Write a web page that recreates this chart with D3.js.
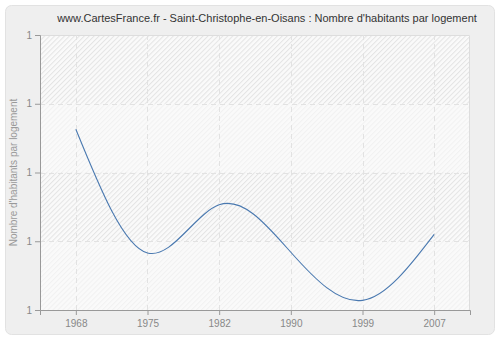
<!DOCTYPE html>
<html>
<head>
<meta charset="utf-8">
<script src="https://cdn.jsdelivr.net/npm/d3@7"></script>
<style>
  html, body { margin: 0; padding: 0; background: #ffffff; }
  svg { display: block; }
</style>
</head>
<body>
<svg id="chart" width="500" height="340"></svg>
<script>
// Census years and average number of inhabitants per dwelling
const years = ["1968", "1975", "1982", "1990", "1999", "2007"];
const values = [1.263, 1.083, 1.153, 1.084, 1.014, 1.110];
const yTicks = [1.0, 1.1, 1.2, 1.3, 1.4];

const titleText = "www.CartesFrance.fr - Saint-Christophe-en-Oisans : Nombre d'habitants par logement";
const yLabel = "Nombre d'habitants par logement";

const W = 500, H = 340;
const margin = { left: 40, right: 30, top: 35, bottom: 30 };
const plotW = W - margin.left - margin.right;
const plotH = H - margin.top - margin.bottom;
const font = "Liberation Sans, Arial, sans-serif";

const svg = d3.select("#chart");

// Outer panel
svg.append("rect")
  .attr("x", 5.5).attr("y", 5.5)
  .attr("width", W - 11).attr("height", H - 11)
  .attr("rx", 6).attr("ry", 6)
  .attr("fill", "#efefef")
  .attr("stroke", "#e2e2e2");

// Diagonal hatch for the plot background
const defs = svg.append("defs");
const pat = defs.append("pattern")
  .attr("id", "hatch")
  .attr("patternUnits", "userSpaceOnUse")
  .attr("width", 3.5).attr("height", 3.5)
  .attr("patternTransform", "rotate(45)");
pat.append("rect").attr("width", 3.5).attr("height", 3.5).attr("fill", "#fafafa");
pat.append("line")
  .attr("x1", 0.5).attr("y1", 0).attr("x2", 0.5).attr("y2", 3.5)
  .attr("stroke", "#e4e4e4").attr("stroke-width", 1);

const x = d3.scalePoint()
  .domain(years)
  .range([0, plotW])
  .padding(0.5);

const y = d3.scaleLinear()
  .domain([1.0, 1.4])
  .range([plotH, 0]);

const g = svg.append("g")
  .attr("transform", `translate(${margin.left},${margin.top})`);

g.append("rect")
  .attr("x", 0).attr("y", 0)
  .attr("width", plotW).attr("height", plotH)
  .attr("fill", "url(#hatch)");

// Lighter alternate bands
for (let i = 0; i < yTicks.length - 1; i++) {
  if (i % 2 === 0) {
    g.append("rect")
      .attr("x", 0)
      .attr("y", y(yTicks[i + 1]))
      .attr("width", plotW)
      .attr("height", y(yTicks[i]) - y(yTicks[i + 1]))
      .attr("fill", "#fafafa")
      .attr("fill-opacity", 0.6);
  }
}

// Plot frame (top and right)
g.append("path")
  .attr("d", `M0.5,0.5H${plotW - 0.5}V${plotH}`)
  .attr("fill", "none")
  .attr("stroke", "#dddddd");

// Grid lines
g.append("g")
  .selectAll("line")
  .data(yTicks.slice(1, -1))
  .join("line")
  .attr("x1", 0).attr("x2", plotW)
  .attr("y1", d => Math.round(y(d)) + 0.5)
  .attr("y2", d => Math.round(y(d)) + 0.5)
  .attr("stroke", "#e2e2e2")
  .attr("stroke-dasharray", "5,4");

g.append("g")
  .selectAll("line")
  .data(years)
  .join("line")
  .attr("x1", d => Math.round(x(d)) + 0.5)
  .attr("x2", d => Math.round(x(d)) + 0.5)
  .attr("y1", 0).attr("y2", plotH)
  .attr("stroke", "#e2e2e2")
  .attr("stroke-dasharray", "5,4");

// Axes
const xAxis = g.append("g")
  .attr("transform", `translate(0,${plotH})`)
  .call(d3.axisBottom(x).tickSizeOuter(0).tickSize(5).tickPadding(5));

const yAxis = g.append("g")
  .call(d3.axisLeft(y).tickValues(yTicks).tickFormat(d3.format(".0f"))
    .tickSizeOuter(0).tickSize(5).tickPadding(3));

[xAxis, yAxis].forEach(ax => {
  ax.select(".domain").attr("stroke", "#999999");
  ax.selectAll(".tick line").attr("stroke", "#999999");
  ax.selectAll(".tick text")
    .attr("fill", "#888888")
    .attr("font-family", font)
    .attr("font-size", 10);
});

// Data line
const line = d3.line()
  .x((d, i) => x(years[i]))
  .y(d => y(d))
  .curve(d3.curveNatural);

g.append("path")
  .datum(values)
  .attr("d", line)
  .attr("fill", "none")
  .attr("stroke", "#4a79b0")
  .attr("stroke-width", 1.1);

// Title
svg.append("text")
  .attr("x", 267)
  .attr("y", 22)
  .attr("text-anchor", "middle")
  .attr("font-family", font)
  .attr("font-size", 11)
  .attr("fill", "#333333")
  .text(titleText);

// Y-axis label
svg.append("text")
  .attr("transform", `translate(17,${margin.top + plotH / 2}) rotate(-90)`)
  .attr("text-anchor", "middle")
  .attr("font-family", font)
  .attr("font-size", 10)
  .attr("fill", "#999999")
  .text(yLabel);
</script>
</body>
</html>
